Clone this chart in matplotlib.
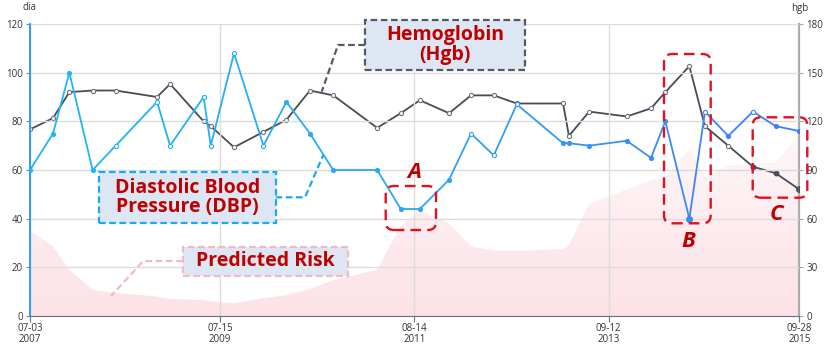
import numpy as np
import pandas as pd
import matplotlib
matplotlib.use("Agg")
import matplotlib.pyplot as plt
import matplotlib.dates as mdates
from matplotlib.collections import LineCollection
from matplotlib.patches import FancyBboxPatch
from matplotlib.lines import Line2D
from matplotlib.colors import LinearSegmentedColormap

# DATOS
fechas = ["2007-07-03", "2007-10-01", "2007-12-04", "2008-03-04", "2008-06-02",
          "2008-11-11", "2009-01-01", "2009-05-12", "2009-06-09", "2009-09-08",
          "2010-01-01", "2010-04-01", "2010-07-02", "2010-10-01", "2011-03-22",
          "2011-06-22", "2011-09-05", "2011-12-28", "2012-03-23", "2012-06-20",
          "2012-09-18", "2013-03-18", "2013-04-10", "2013-06-28", "2013-11-22",
          "2014-02-25", "2014-04-22", "2014-07-25", "2014-09-24", "2014-12-24",
          "2015-03-31", "2015-06-28", "2015-09-28"]

dbp = [60, 75, 100, 60, 70, 88, 70, 90, 70, 108, 70, 88, 75, 60, 60, 44, 44,
       56, 75, 66, 87, 71, 71, 70, 72, 65, 80, 40, 84, 74, 84, 78, 76]

hgb = [115, 122, 138, 139, 139, 135, 143, 120, 117, 104, 113.5, 121, 139, 136,
       116, 125, 133, 125, 136, 136, 131, 131, 111, 126, 123, 128, 138, 154,
       117, 105, 92, 88, 78]

riesgo = [35, 28.7, 19, 10.7, 9.5, 8, 7, 6.5, 6, 5.2, 7.3, 8.6, 11, 14.8, 19,
          37, 43.5, 38, 28.5, 27, 26.8, 27.5, 29, 46, 52, 56, 57, 69, 57, 62,
          62.5, 63, 75]

ticks_x = ["2007-07-03", "2009-07-15", "2011-08-14", "2013-09-12", "2015-09-28"]

# puntos rellenos (estilo)
dbp_llenos = [0, 1, 2, 3, 11, 12, 13, 14, 15, 16, 17, 21, 22, 23, 24, 25, 26, 27, 29, 31, 32]
hgb_llenos = [30, 31, 32]

x = pd.to_datetime(fechas)
xn = mdates.date2num(x)

plt.rcParams['font.family'] = ['Open Sans', 'DejaVu Sans']
fig = plt.figure(figsize=(8.3, 3.44), dpi=100)
ax = fig.add_axes([30/830, 1-316/344, 769.3/830, 292/344])
ax2 = ax.twinx()
ax.set_zorder(ax2.get_zorder() + 1)
ax.patch.set_visible(False)

ax.set_xlim(pd.Timestamp(ticks_x[0]), pd.Timestamp(ticks_x[-1]))
ax.set_ylim(0, 120)
ax2.set_ylim(0, 180)

# area riesgo con degradado vertical (abajo mas rosa)
poly = ax.fill_between(x, riesgo, 0, color='none', lw=0)
grad = np.zeros((100, 2, 4))
t = np.linspace(0, 1, 100)[:, None]
grad[:, :, :3] = np.array([0.976, 0.70, 0.75])
grad[:, :, 3] = 0.38 - 0.26 * t
img = ax2.imshow(grad, aspect='auto', origin='lower', zorder=0,
                 extent=[xn[0], xn[-1], 0, 120 * 1.5 * 0.62], interpolation='bilinear')
img.set_clip_path(poly.get_paths()[0], transform=ax.transData)

# DBP con gradiente
cmap = LinearSegmentedColormap.from_list('dbp', ['#1cb8f7', '#2ea6f5', '#3f7cfa'])
pts = np.column_stack([xn, dbp])
segs = np.stack([pts[:-1], pts[1:]], axis=1)
frac = ((xn[:-1] + xn[1:]) / 2 - xn[0]) / (xn[-1] - xn[0])
lc = LineCollection(segs, colors=cmap(frac), lw=1.3, zorder=3)
ax.add_collection(lc)
fr_pts = (xn - xn[0]) / (xn[-1] - xn[0])
for i in range(len(dbp)):
    c = cmap(fr_pts[i])
    if i in dbp_llenos:
        ms = 4 if i == 27 else 2.7
        ax.plot(x[i], dbp[i], 'o', ms=ms, mfc=c, mec=c, zorder=4)
    else:
        ax.plot(x[i], dbp[i], 'o', ms=3, mfc='white', mec=c, mew=0.8, zorder=4)

# Hgb
ax2.plot(x, hgb, color='#454d57', lw=1.3, zorder=3)
for i in range(len(hgb)):
    if i in hgb_llenos:
        ms = 4 if i == 32 else 3.2
        ax2.plot(x[i], hgb[i], 'o', ms=ms, mfc='#454d57', mec='#454d57', zorder=4)
    else:
        ax2.plot(x[i], hgb[i], 'o', ms=3, mfc='white', mec='#6b737c', mew=0.8, zorder=4)

# ejes
ax.set_xlim(pd.Timestamp(ticks_x[0]), pd.Timestamp(ticks_x[-1]))
ax2.set_xlim(pd.Timestamp(ticks_x[0]), pd.Timestamp(ticks_x[-1]))
ax.set_yticks(np.arange(0, 121, 20))
ax2.set_yticks(np.arange(0, 181, 30))
tx = pd.to_datetime(ticks_x)
ax.set_xticks(tx)
ax.set_xticklabels([d.strftime('%m-%d') + '\n' + d.strftime('%Y') for d in tx])
ax.grid(True, color='#dcdcdc', lw=1, zorder=0.5)
for a in (ax, ax2):
    a.spines['top'].set_visible(False)
ax.spines['left'].set_color('#2f9bf7')
ax.spines['left'].set_linewidth(1.4)
ax2.spines['left'].set_visible(False)
ax.spines['right'].set_visible(False)
ax2.spines['right'].set_color('#a8a8a8')
ax2.spines['right'].set_linewidth(1.6)
ax.spines['bottom'].set_color('#6e7079')
ax2.spines['bottom'].set_visible(False)
ax.tick_params(axis='y', colors='#333333', labelsize=7, length=3, pad=2)
ax.tick_params(axis='y', color='#2f9bf7')
ax2.tick_params(axis='y', labelsize=7, length=3, pad=2, colors='#333333')
ax2.tick_params(axis='y', color='#a8a8a8')
ax.tick_params(axis='x', labelsize=7, length=4, pad=1, colors='#333333')
ax.tick_params(axis='x', color='#6e7079')
for lab in ax.get_xticklabels():
    lab.set_linespacing(0.95)

fig.text(29/830, 1-8/344, 'dia', fontsize=7, ha='center', va='center', color='#333333')
fig.text(800/830, 1-8/344, 'hgb', fontsize=7, ha='center', va='center', color='#333333')

# anotaciones en pixeles
T = fig.dpi_scale_trans
def P(px, py):
    return (px / 100, (344 - py) / 100)

def caja(x0, y0, x1, y1, borde, texto):
    b = FancyBboxPatch(P(x0, y1), (x1 - x0) / 100, (y1 - y0) / 100,
                       boxstyle='square,pad=0', transform=T, fc='#dde7f3',
                       ec=borde, lw=1.6, ls=(0, (3, 1.6)), zorder=10)
    fig.add_artist(b)
    fig.text((x0 + x1) / 2 / 830, 1 - (y0 + y1) / 2 / 344, texto, ha='center',
             va='center', fontsize=14, fontweight='bold', color='#c00000',
             linespacing=0.95, zorder=11)

def guia(puntos, color):
    xs = [p[0] / 100 for p in puntos]
    ys = [(344 - p[1]) / 100 for p in puntos]
    fig.add_artist(Line2D(xs, ys, transform=T, color=color, lw=1.6,
                          ls=(0, (3, 1.6)), zorder=9))

caja(365, 20, 525, 70, '#555a60', 'Hemoglobin\n(Hgb)')
guia([(365, 45), (338, 45), (321.7, 91.7)], '#555a60')
caja(99.3, 171.7, 275.5, 223.3, '#1aa9ee', 'Diastolic Blood\nPressure (DBP)')
guia([(275.5, 197.3), (305, 197.3), (323.3, 155)], '#1aa9ee')
caja(182.7, 246.7, 347.7, 275.7, '#f2b8c3', 'Predicted Risk')
guia([(182.7, 261), (143.3, 261), (111, 296)], '#f2b8c3')

def marco(x0, y0, x1, y1, letra, lx, ly):
    b = FancyBboxPatch(P(x0, y1), (x1 - x0) / 100, (y1 - y0) / 100,
                       boxstyle='round,pad=0,rounding_size=0.08', transform=T,
                       fc='none', ec='#e3111f', lw=1.7, ls=(0, (4.5, 2.6)), zorder=10)
    fig.add_artist(b)
    fig.text(lx / 830, 1 - ly / 344, letra, ha='center', va='center', fontsize=16,
             fontweight='bold', fontstyle='italic', color='#c00000', zorder=11)

marco(385.7, 186, 436, 230, 'A', 414, 173)
marco(664, 54, 710.7, 223.3, 'B', 688.3, 241.7)
marco(752.7, 117.3, 807.3, 197.7, 'C', 776.7, 215)

fig.savefig('out.png', dpi=100)
